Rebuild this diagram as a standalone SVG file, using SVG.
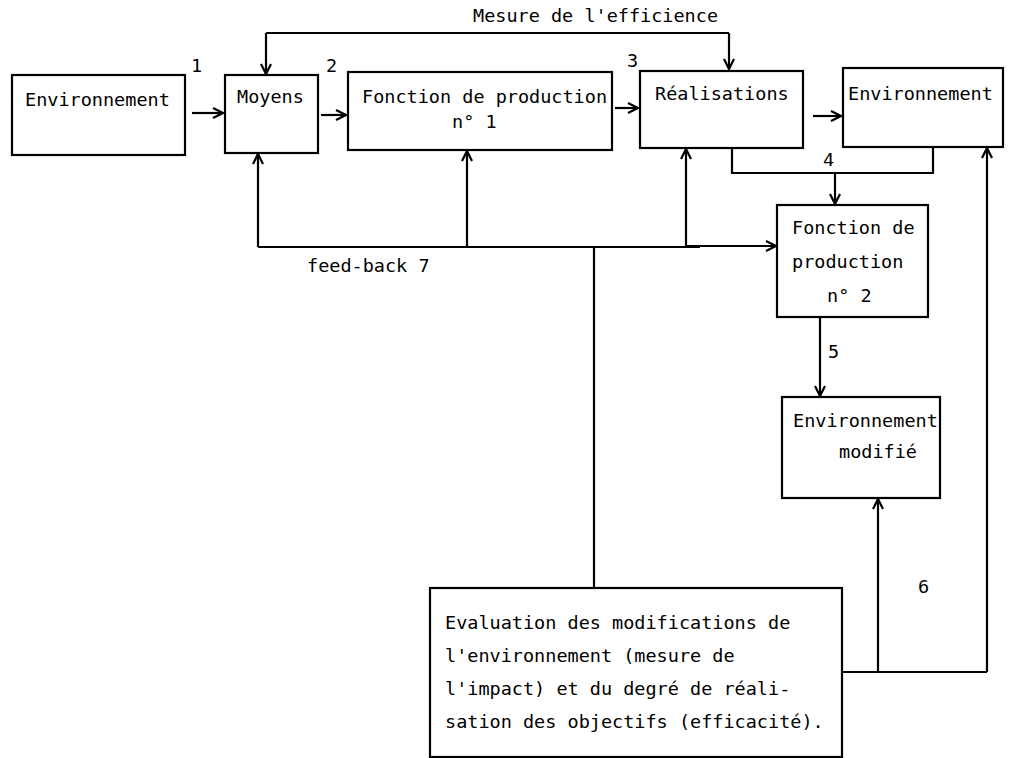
<svg xmlns="http://www.w3.org/2000/svg" width="1024" height="758" viewBox="0 0 1024 758">
<defs>
<marker id="ah" viewBox="0 0 12 12" refX="11" refY="6" markerWidth="12" markerHeight="12" markerUnits="userSpaceOnUse" orient="auto">
<path d="M1,1 L11,6 L1,11" fill="none" stroke="#000" stroke-width="2.2"/>
</marker>
<style>
.box{fill:#fff;stroke:#000;stroke-width:2.2}
.t{font-family:"DejaVu Sans Mono","Liberation Mono",monospace;font-size:18.5px;fill:#000}
.c{fill:none;stroke:#000;stroke-width:2.2}
.a{fill:none;stroke:#000;stroke-width:2.2;marker-end:url(#ah)}
</style>
</defs>
<rect width="1024" height="758" fill="#fff"/>
<g id="connectors">
<path class="c" d="M266,33 H729"/>
<path class="a" d="M266,33 V74"/>
<path class="a" d="M729,33 V69"/>
<path class="a" d="M192,113 H223"/>
<path class="a" d="M321,115 H346"/>
<path class="a" d="M615,108 H638"/>
<path class="a" d="M813,116 H841"/>
<path class="c" d="M732,148 V173 H933 V147"/>
<path class="a" d="M835,173 V204"/>
<path class="c" d="M258,247 H700"/>
<path class="a" d="M258,247 V154"/>
<path class="a" d="M467,247 V151"/>
<path class="a" d="M686,247 V149"/>
<path class="a" d="M686,246 H776"/>
<path class="c" d="M594,247 V588"/>
<path class="a" d="M820,317 V396"/>
<path class="c" d="M842,672 H987"/>
<path class="a" d="M878,672 V499"/>
<path class="a" d="M987,672 V148"/>
</g>
<g id="labels">
<text class="t" x="473" y="22">Mesure de l'efficience</text>
<text class="t" x="191" y="72">1</text>
<text class="t" x="326" y="72">2</text>
<text class="t" x="627" y="67">3</text>
<text class="t" x="823" y="166">4</text>
<text class="t" x="828" y="358">5</text>
<text class="t" x="918" y="593">6</text>
<text class="t" x="307" y="272">feed-back  7</text>
</g>
<g id="env1"><rect class="box" x="12" y="75" width="173" height="80"/><text class="t" x="25" y="106">Environnement</text></g>
<g id="moyens"><rect class="box" x="225" y="75" width="93" height="78"/><text class="t" x="237" y="103">Moyens</text></g>
<g id="fp1"><rect class="box" x="348" y="72" width="264" height="78"/><text class="t" x="362" y="103">Fonction de production</text><text class="t" x="452" y="128">n° 1</text></g>
<g id="real"><rect class="box" x="640" y="71" width="163" height="77"/><text class="t" x="655" y="100">Réalisations</text></g>
<g id="env2"><rect class="box" x="843" y="68" width="160" height="79"/><text class="t" x="848" y="100">Environnement</text></g>
<g id="fp2"><rect class="box" x="777" y="205" width="151" height="112"/><text class="t" x="792" y="234">Fonction de</text><text class="t" x="792" y="268">production</text><text class="t" x="827" y="302">n° 2</text></g>
<g id="envmod"><rect class="box" x="782" y="397" width="158" height="101"/><text class="t" x="793" y="427">Environnement</text><text class="t" x="839" y="458">modifié</text></g>
<g id="eval"><rect class="box" x="430" y="588" width="412" height="169"/>
<text class="t" x="445" y="629">Evaluation des modifications de</text>
<text class="t" x="445" y="662">l'environnement (mesure de</text>
<text class="t" x="445" y="695">l'impact) et du degré de réali-</text>
<text class="t" x="445" y="728">sation des objectifs (efficacité).</text>
</g>
</svg>
